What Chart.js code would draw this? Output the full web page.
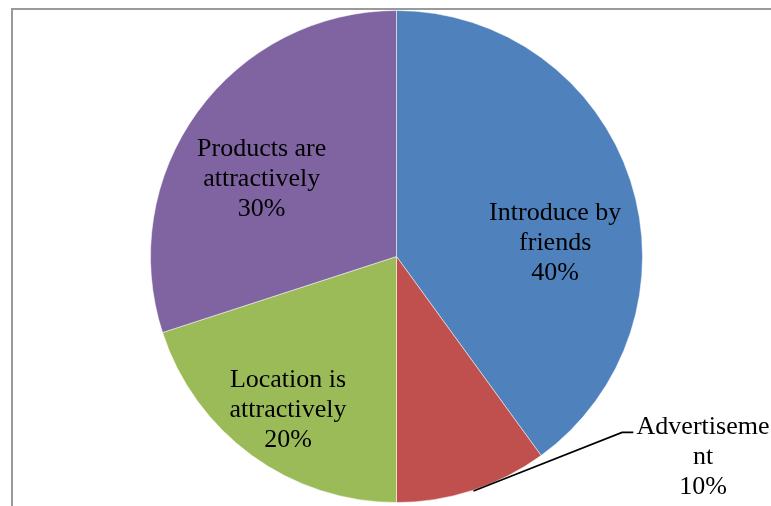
<!DOCTYPE html>
<html lang="en">
<head>
    <meta charset="UTF-8">
    <title>Pie chart</title>
    <script type="text/javascript" src="https://cdn.jsdelivr.net/npm/chart.js@4.4.1/dist/chart.umd.min.js"></script>
    <style>
        html, body { margin: 0; padding: 0; background: #fff; }
        #wrap { width: 771px; height: 506px; position: relative; }
    </style>
</head>
<body>
<div id="wrap">
    <canvas id="pie"></canvas>
</div>

<script type="text/javascript">
    // data
    var categories = ['Introduce by friends', 'Advertisement', 'Location is attractively', 'Products are attractively'];
    var shares = [40, 10, 20, 30];
    var labelLines = [
        ['Introduce by', 'friends'],
        ['Advertiseme', 'nt'],
        ['Location is', 'attractively'],
        ['Products are', 'attractively']
    ];
    var colors = ['#4F81BD', '#C0504D', '#9BBB59', '#8064A2'];

    // label spots, in units of the pie radius from its centre (middle line baseline)
    var labelSpots = [[0.645, -0.026], [1.246, 0.843], [-0.441, 0.651], [-0.548, -0.287]];
    // leader line for the small slice
    var leader = [[0.313, 0.953], [0.917, 0.715], [0.963, 0.715]];

    var framePlugin = {
        id: 'frame',
        beforeDraw: function (chart) {
            var ctx = chart.ctx;
            ctx.save();
            ctx.strokeStyle = '#9a9a9a';
            ctx.lineWidth = 2;
            ctx.beginPath();
            ctx.moveTo(12, chart.height);
            ctx.lineTo(12, 9);
            ctx.lineTo(chart.width, 9);
            ctx.stroke();
            ctx.restore();
        }
    };

    var labelPlugin = {
        id: 'sliceLabels',
        afterDatasetsDraw: function (chart) {
            var ctx = chart.ctx;
            var arcs = chart.getDatasetMeta(0).data;
            var cx = arcs[0].x, cy = arcs[0].y, r = arcs[0].outerRadius;
            var total = shares.reduce(function (a, b) { return a + b; }, 0);
            ctx.save();

            // leader line
            ctx.strokeStyle = '#000';
            ctx.lineWidth = 1.6;
            ctx.beginPath();
            leader.forEach(function (p, i) {
                var x = cx + p[0] * r, y = cy + p[1] * r;
                if (i === 0) ctx.moveTo(x, y); else ctx.lineTo(x, y);
            });
            ctx.stroke();

            ctx.fillStyle = '#000';
            ctx.font = '26px "Liberation Serif", "Times New Roman", serif';
            ctx.textAlign = 'center';
            ctx.textBaseline = 'alphabetic';
            for (var i = 0; i < shares.length; i++) {
                var lines = labelLines[i].concat([Math.round(shares[i] / total * 100) + '%']);
                var x = cx + labelSpots[i][0] * r;
                var y = cy + labelSpots[i][1] * r;
                for (var j = 0; j < lines.length; j++) {
                    ctx.fillText(lines[j], x, y + (j - 1) * 30);
                }
            }
            ctx.restore();
        }
    };

    new Chart(document.getElementById('pie').getContext('2d'), {
        type: 'pie',
        data: {
            labels: categories,
            datasets: [{
                data: shares,
                backgroundColor: colors,
                borderColor: 'rgba(255,255,255,0.5)',
                borderWidth: 1
            }]
        },
        options: {
            responsive: true,
            maintainAspectRatio: false,
            animation: false,
            layout: { padding: { top: 10, bottom: 3, left: 22, right: 0 } },
            plugins: {
                legend: { display: false },
                tooltip: { enabled: false }
            }
        },
        plugins: [framePlugin, labelPlugin]
    });
</script>
</body>
</html>
